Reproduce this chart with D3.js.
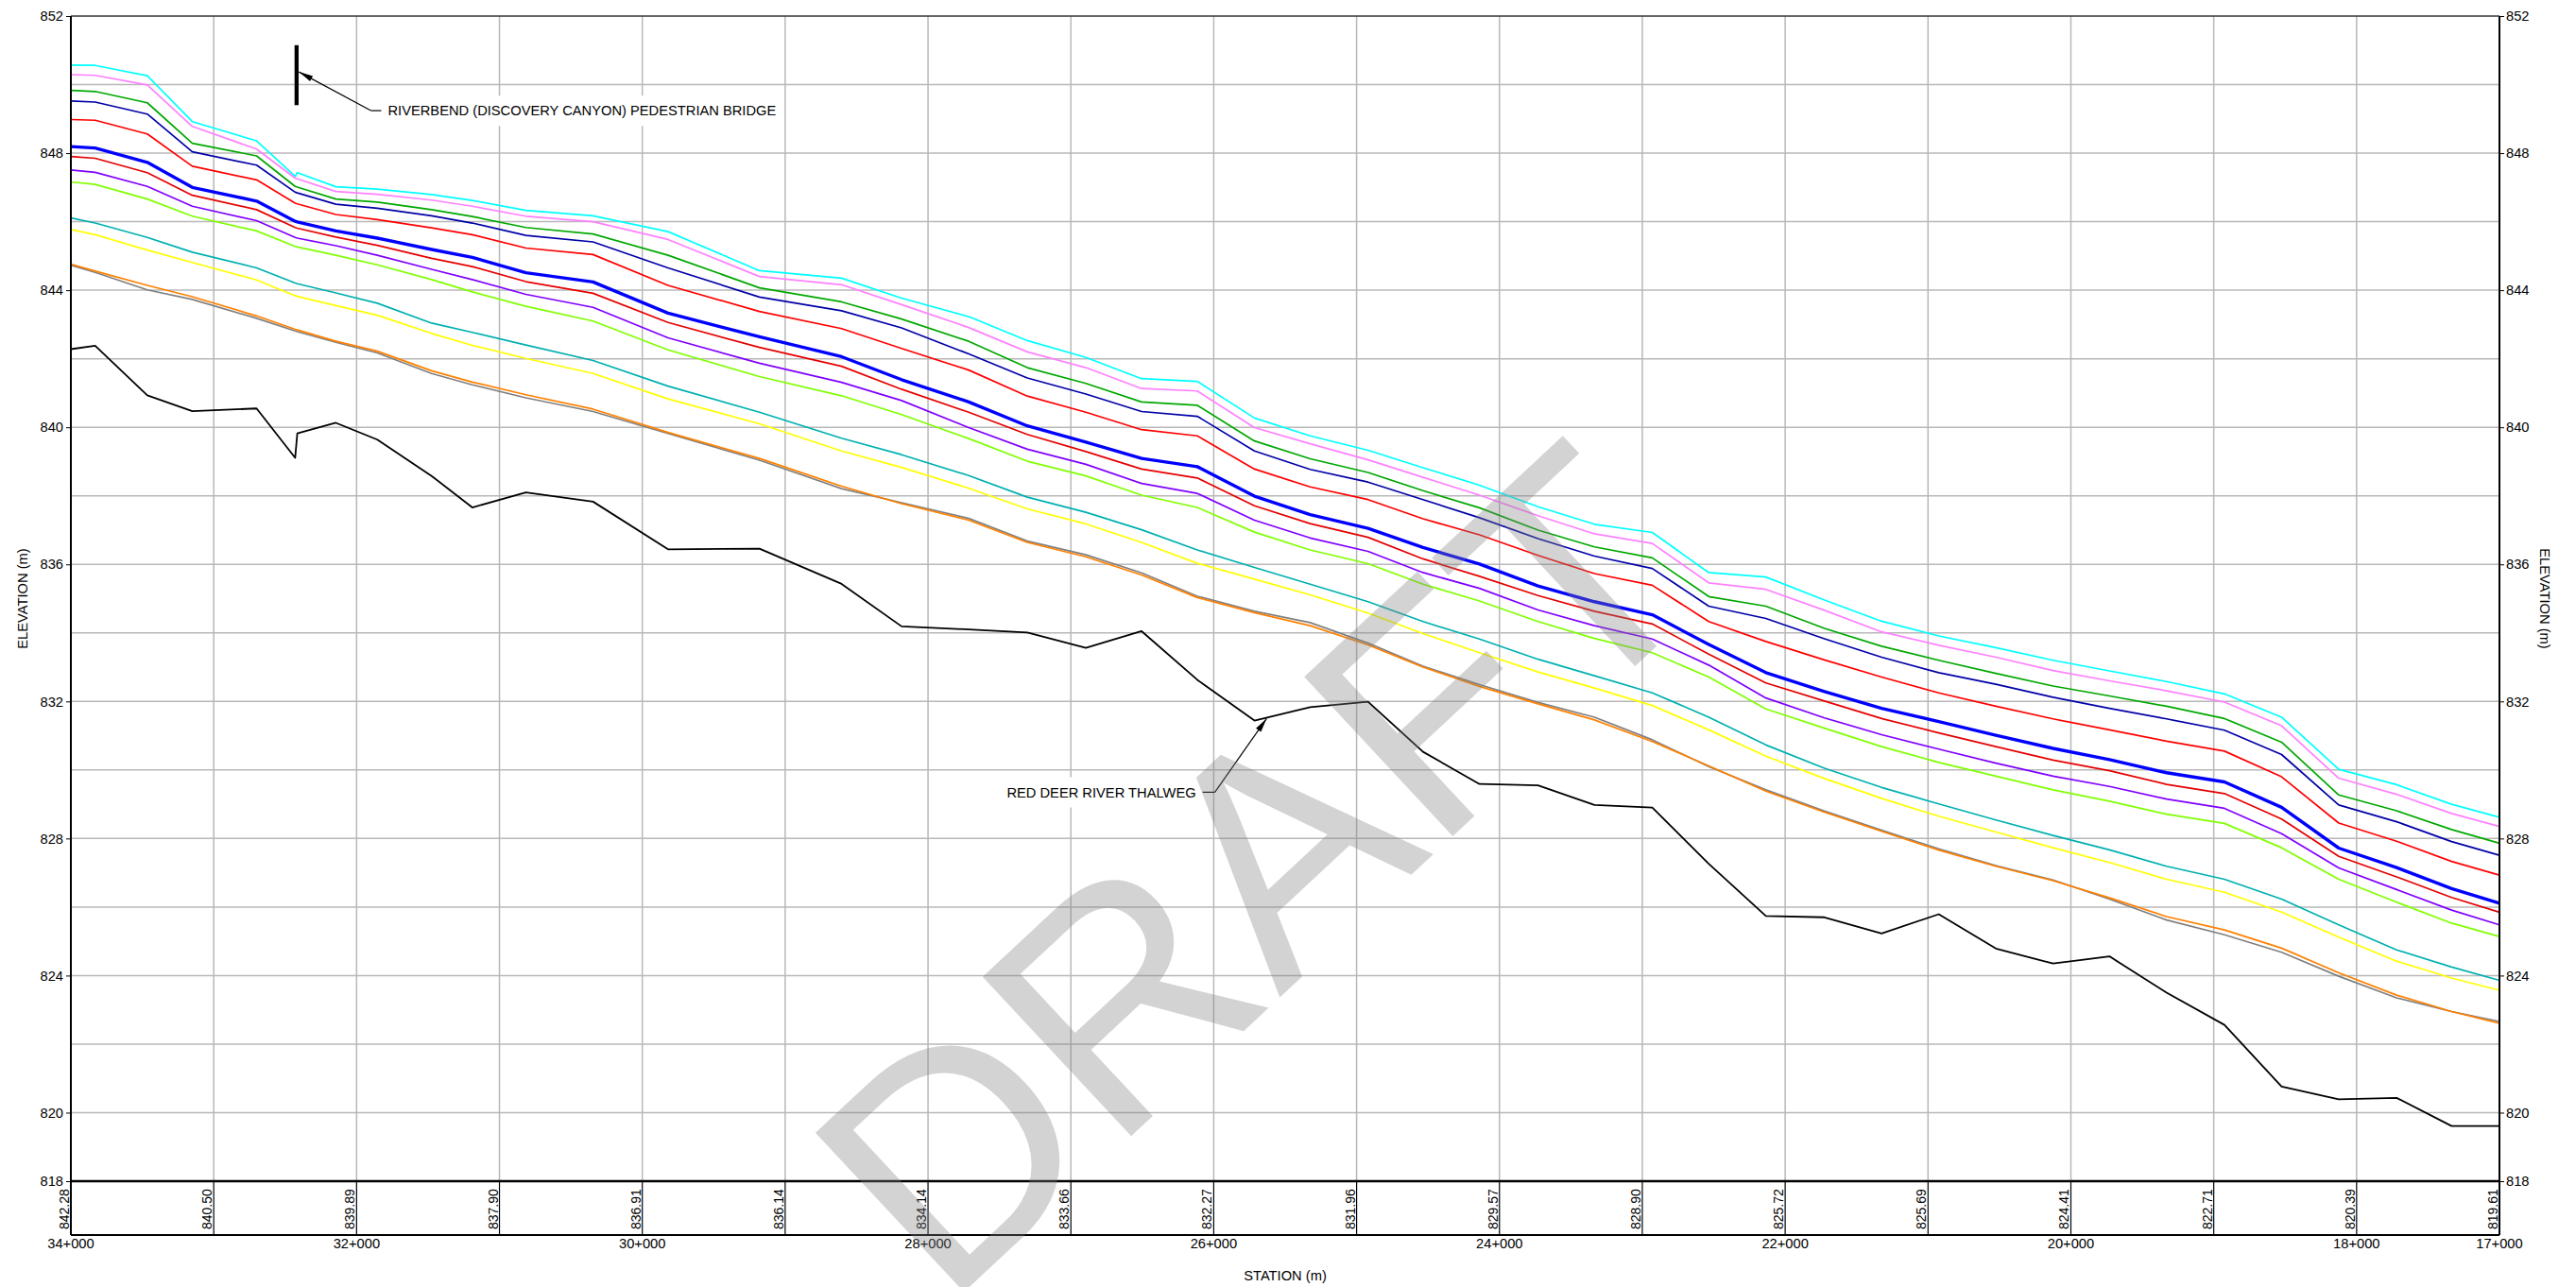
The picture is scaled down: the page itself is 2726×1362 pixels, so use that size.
<!DOCTYPE html>
<html>
<head>
<meta charset="utf-8">
<script src="https://cdn.jsdelivr.net/npm/d3@7"></script>
<style>
body { margin: 0; background: #fff; }
text { font-family: "Liberation Sans", Arial, sans-serif; }
</style>
</head>
<body>
<svg id="chart" width="2726" height="1362"></svg>
<script>
// cross section stations (m), upstream to downstream
var stations = [34000, 33830, 33465, 33150, 32700, 32430, 32415, 32145, 31855, 31475, 31190,
  30815, 30345, 29820, 29180, 28605, 28185, 27715, 27305, 26895, 26505, 26115, 25715,
  25325, 24920, 24535, 24140, 23730, 23335, 22930, 22535, 22135, 21725, 21325, 20925,
  20525, 20125, 19730, 19330, 18925, 18525, 18125, 17720, 17335, 17000];

// water surface profiles, top to bottom
var wsCyan = [850.57, 850.56, 850.26, 848.92, 848.36, 847.32, 847.43, 847.02, 846.95, 846.79, 846.62,
  846.33, 846.17, 845.71, 844.57, 844.35, 843.77, 843.23, 842.53, 842.04, 841.42, 841.34, 840.27,
  839.75, 839.33, 838.82, 838.31, 837.68, 837.17, 836.93, 835.76, 835.63, 834.96, 834.34, 833.91,
  833.57, 833.20, 832.89, 832.58, 832.22, 831.54, 830.02, 829.57, 829.00, 828.62];
var wsPink = [850.29, 850.27, 849.99, 848.78, 848.12, 847.27, 847.25, 846.88, 846.80, 846.63, 846.45,
  846.16, 846.00, 845.48, 844.40, 844.16, 843.58, 842.91, 842.20, 841.74, 841.13, 841.06, 839.99,
  839.52, 839.05, 838.54, 838.02, 837.42, 836.89, 836.61, 835.46, 835.27, 834.66, 834.03, 833.64,
  833.29, 832.90, 832.60, 832.31, 831.98, 831.29, 829.76, 829.29, 828.73, 828.35];
var wsGreen = [849.83, 849.80, 849.47, 848.29, 847.92, 847.03, 847.01, 846.66, 846.57, 846.35, 846.15,
  845.83, 845.64, 845.02, 844.07, 843.66, 843.16, 842.51, 841.74, 841.28, 840.74, 840.64, 839.60,
  839.08, 838.68, 838.15, 837.65, 837.00, 836.51, 836.19, 835.06, 834.78, 834.13, 833.61, 833.20,
  832.82, 832.45, 832.16, 831.86, 831.50, 830.81, 829.27, 828.81, 828.26, 827.86];
var wsNavy = [849.52, 849.49, 849.14, 848.04, 847.65, 846.86, 846.84, 846.51, 846.39, 846.17, 845.96,
  845.60, 845.41, 844.65, 843.80, 843.40, 842.90, 842.14, 841.44, 840.97, 840.46, 840.32, 839.31,
  838.77, 838.40, 837.89, 837.36, 836.75, 836.24, 835.88, 834.78, 834.42, 833.83, 833.29, 832.84,
  832.50, 832.12, 831.80, 831.49, 831.16, 830.45, 828.98, 828.49, 827.91, 827.51];
var wsRed = [848.98, 848.96, 848.56, 847.62, 847.22, 846.54, 846.52, 846.21, 846.06, 845.82, 845.62,
  845.23, 845.04, 844.14, 843.38, 842.88, 842.30, 841.67, 840.91, 840.44, 839.93, 839.75, 838.78,
  838.26, 837.89, 837.33, 836.86, 836.26, 835.73, 835.39, 834.33, 833.75, 833.21, 832.71, 832.25,
  831.86, 831.49, 831.17, 830.84, 830.55, 829.80, 828.45, 827.92, 827.33, 826.93];
var wsBlue = [848.19, 848.15, 847.73, 847.00, 846.60, 846.01, 845.99, 845.73, 845.52, 845.19, 844.96,
  844.51, 844.24, 843.33, 842.64, 842.06, 841.39, 840.74, 840.04, 839.57, 839.09, 838.85, 837.99,
  837.45, 837.05, 836.49, 836.01, 835.37, 834.91, 834.53, 833.66, 832.84, 832.29, 831.80, 831.41,
  831.01, 830.63, 830.30, 829.92, 829.65, 828.91, 827.72, 827.15, 826.54, 826.11];
var wsRed2 = [847.90, 847.85, 847.43, 846.77, 846.35, 845.83, 845.81, 845.55, 845.31, 844.93, 844.69,
  844.25, 843.91, 843.06, 842.33, 841.78, 841.11, 840.44, 839.79, 839.29, 838.78, 838.52, 837.71,
  837.19, 836.79, 836.16, 835.65, 835.09, 834.63, 834.26, 833.38, 832.54, 832.01, 831.50, 831.08,
  830.68, 830.29, 829.98, 829.58, 829.31, 828.57, 827.48, 826.88, 826.28, 825.85];
var wsPurple = [847.51, 847.44, 847.03, 846.45, 846.03, 845.54, 845.52, 845.30, 845.02, 844.61, 844.31,
  843.88, 843.50, 842.61, 841.87, 841.31, 840.78, 839.99, 839.36, 838.92, 838.36, 838.07, 837.29,
  836.77, 836.38, 835.76, 835.30, 834.67, 834.21, 833.82, 833.06, 832.10, 831.52, 831.03, 830.61,
  830.20, 829.82, 829.52, 829.15, 828.88, 828.14, 827.14, 826.51, 825.91, 825.48];
var wsLime = [847.16, 847.09, 846.66, 846.16, 845.73, 845.28, 845.26, 845.02, 844.74, 844.31, 843.95,
  843.53, 843.10, 842.26, 841.48, 840.92, 840.37, 839.67, 839.01, 838.58, 838.02, 837.66, 836.94,
  836.42, 836.02, 835.42, 834.93, 834.33, 833.84, 833.42, 832.71, 831.78, 831.22, 830.68, 830.22,
  829.82, 829.42, 829.09, 828.71, 828.44, 827.73, 826.81, 826.14, 825.53, 825.14];
var wsTeal = [846.11, 845.96, 845.54, 845.11, 844.65, 844.21, 844.19, 843.92, 843.62, 843.04, 842.77,
  842.40, 841.95, 841.20, 840.44, 839.68, 839.20, 838.59, 837.96, 837.52, 837.01, 836.42, 835.91,
  835.42, 834.91, 834.33, 833.82, 833.23, 832.75, 832.25, 831.54, 830.73, 830.05, 829.49, 829.01,
  828.54, 828.09, 827.67, 827.19, 826.81, 826.23, 825.48, 824.75, 824.25, 823.86];
var wsYellow = [845.77, 845.62, 845.17, 844.81, 844.30, 843.84, 843.82, 843.55, 843.27, 842.74, 842.39,
  842.01, 841.57, 840.83, 840.10, 839.31, 838.83, 838.22, 837.62, 837.18, 836.64, 836.03, 835.57,
  835.11, 834.58, 833.98, 833.42, 832.86, 832.39, 831.88, 831.17, 830.40, 829.75, 829.17, 828.65,
  828.19, 827.73, 827.30, 826.81, 826.43, 825.85, 825.12, 824.42, 823.93, 823.57];
var wsGray = [844.73, 844.52, 844.01, 843.73, 843.18, 842.81, 842.79, 842.48, 842.17, 841.57, 841.24,
  840.86, 840.46, 839.82, 839.04, 838.21, 837.80, 837.34, 836.68, 836.28, 835.75, 835.07, 834.63,
  834.30, 833.70, 833.03, 832.49, 831.97, 831.54, 830.88, 830.10, 829.42, 828.80, 828.24, 827.70,
  827.21, 826.79, 826.23, 825.62, 825.19, 824.68, 823.98, 823.35, 822.95, 822.66];
var wsOrange = [844.76, 844.56, 844.14, 843.81, 843.25, 842.86, 842.84, 842.51, 842.22, 841.65, 841.32,
  840.95, 840.53, 839.85, 839.09, 838.28, 837.77, 837.29, 836.64, 836.22, 835.69, 835.03, 834.59,
  834.21, 833.65, 833.00, 832.44, 831.93, 831.46, 830.83, 830.12, 829.38, 828.77, 828.21, 827.66,
  827.19, 826.77, 826.27, 825.72, 825.33, 824.80, 824.08, 823.43, 822.95, 822.61];
// channel bottom
var thalweg = [842.28, 842.38, 840.93, 840.47, 840.55, 839.11, 839.82, 840.13, 839.64, 838.58, 837.66,
  838.10, 837.83, 836.44, 836.46, 835.43, 834.19, 834.10, 834.01, 833.56, 834.05, 832.63, 831.44,
  831.83, 831.99, 830.53, 829.59, 829.55, 828.98, 828.90, 827.26, 825.74, 825.70, 825.23, 825.79,
  824.79, 824.35, 824.56, 823.50, 822.56, 820.76, 820.39, 820.43, 819.61, 819.61];

var elevTicks = [852, 848, 844, 840, 836, 832, 828, 824, 820, 818];
var stationTicks = [34000, 32000, 30000, 28000, 26000, 24000, 22000, 20000, 18000, 17000];
var gridStations = [34000, 33000, 32000, 31000, 30000, 29000, 28000, 27000, 26000, 25000, 24000,
  23000, 22000, 21000, 20000, 19000, 18000, 17000];
var thalwegLabels = ["842.28", "840.50", "839.89", "837.90", "836.91", "836.14", "834.14", "833.66",
  "832.27", "831.96", "829.57", "828.90", "825.72", "825.69", "824.41", "822.71", "820.39", "819.61"];

var profiles = [
  {values: wsCyan, color: "#00ffff", width: 1.7},
  {values: wsPink, color: "#ff80ff", width: 1.7},
  {values: wsGreen, color: "#00a800", width: 1.7},
  {values: wsNavy, color: "#0000a8", width: 1.7},
  {values: wsRed, color: "#ff0000", width: 1.7},
  {values: wsBlue, color: "#0000ff", width: 3.4},
  {values: wsRed2, color: "#e60000", width: 1.7},
  {values: wsPurple, color: "#8000ff", width: 1.7},
  {values: wsLime, color: "#80ff00", width: 1.7},
  {values: wsTeal, color: "#00b0b0", width: 1.7},
  {values: wsYellow, color: "#ffff00", width: 1.7},
  {values: wsGray, color: "#808080", width: 1.7},
  {values: wsOrange, color: "#ff8000", width: 1.7},
  {values: thalweg, color: "#000000", width: 1.8}
];

var plotLeft = 75, plotRight = 2645, plotTop = 17, plotBottom = 1250, bandBottom = 1307;
var font = "'Liberation Sans', Arial, sans-serif";

var svg = d3.select("#chart");
var x = d3.scaleLinear().domain([34000, 17000]).range([plotLeft, plotRight]);
var y = d3.scaleLinear().domain([818, 852]).range([plotBottom, plotTop]);

function stationLabel(s){
  return Math.floor(s / 1000) + "+" + String(s % 1000).padStart(3, "0");
}

//Grid lines
svg.append("g").selectAll("line").data(d3.range(820, 852, 2)).enter().append("line")
  .attr("x1", plotLeft).attr("x2", plotRight).attr("y1", function(d){ return y(d); }).attr("y2", function(d){ return y(d); })
  .attr("stroke", "#b8b8b8").attr("stroke-width", 1.5);
svg.append("g").selectAll("line").data(gridStations).enter().append("line")
  .attr("x1", function(d){ return x(d); }).attr("x2", function(d){ return x(d); })
  .attr("y1", plotTop).attr("y2", plotBottom)
  .attr("stroke", "#b8b8b8").attr("stroke-width", 1.5);

//Profiles
var line = d3.line().x(function(d, i){ return x(stations[i]); }).y(function(d){ return y(d); });
svg.append("g").selectAll("path").data(profiles).enter().append("path")
  .attr("d", function(p){ return line(p.values); })
  .attr("fill", "none").attr("stroke", function(p){ return p.color; })
  .attr("stroke-width", function(p){ return p.width; }).attr("stroke-linejoin", "round");

//Annotations
var notes = svg.append("g");
function arrow(x1, y1, x2, y2){
  notes.append("line").attr("x1", x1).attr("y1", y1).attr("x2", x2).attr("y2", y2)
    .attr("stroke", "#000").attr("stroke-width", 1.2);
  var a = Math.atan2(y2 - y1, x2 - x1), L = 15, W = 3.2;
  var bx = x2 - L * Math.cos(a), by = y2 - L * Math.sin(a);
  notes.append("path").attr("fill", "#000")
    .attr("d", "M" + x2 + "," + y2 + "L" + (bx - W * Math.sin(a)) + "," + (by + W * Math.cos(a)) +
      "L" + (bx + W * Math.sin(a)) + "," + (by - W * Math.cos(a)) + "Z");
}
function maskedText(tx, ty, anchor, str){
  var t = notes.append("text").attr("x", tx).attr("y", ty).attr("dy", "0.35em")
    .attr("text-anchor", anchor).attr("font-size", 14.7).attr("fill", "#000").text(str);
  var b = t.node().getBBox();
  notes.insert("rect", function(){ return t.node(); })
    .attr("x", b.x - 7).attr("y", b.y - 8).attr("width", b.width + 14).attr("height", b.height + 16)
    .attr("fill", "#fff");
}

// bridge
var bridgeStation = 32420, bridgeTop = 851.15, bridgeBottom = 849.4;
notes.append("line").attr("x1", x(bridgeStation)).attr("x2", x(bridgeStation))
  .attr("y1", y(bridgeTop)).attr("y2", y(bridgeBottom)).attr("stroke", "#000").attr("stroke-width", 4.3);
var bx0 = x(31900), by0 = y(849.24);
arrow(bx0, by0, x(bridgeStation) + 2.5, y(850.37));
notes.append("line").attr("x1", bx0).attr("x2", bx0 + 12).attr("y1", by0).attr("y2", by0)
  .attr("stroke", "#000").attr("stroke-width", 1.2);
maskedText(bx0 + 18, by0, "start", "RIVERBEND (DISCOVERY CANYON) PEDESTRIAN BRIDGE");

// thalweg
var tx0 = x(25992), ty0 = y(829.35);
arrow(tx0, ty0, x(25630), y(831.5));
notes.append("line").attr("x1", tx0).attr("x2", tx0 - 15).attr("y1", ty0).attr("y2", ty0)
  .attr("stroke", "#000").attr("stroke-width", 1.2);
maskedText(tx0 - 20, ty0, "end", "RED DEER RIVER THALWEG");

//Frame
var frame = svg.append("g").attr("stroke", "#000").attr("fill", "none");
frame.append("line").attr("x1", plotLeft).attr("x2", plotRight).attr("y1", plotTop).attr("y2", plotTop).attr("stroke", "#333").attr("stroke-width", 1.5);
frame.append("line").attr("x1", plotLeft).attr("x2", plotLeft).attr("y1", plotTop).attr("y2", bandBottom).attr("stroke-width", 2);
frame.append("line").attr("x1", plotRight).attr("x2", plotRight).attr("y1", plotTop).attr("y2", bandBottom).attr("stroke-width", 2);
frame.append("line").attr("x1", plotLeft).attr("x2", plotRight).attr("y1", plotBottom).attr("y2", plotBottom).attr("stroke-width", 2.6);
frame.append("line").attr("x1", plotLeft).attr("x2", plotRight).attr("y1", bandBottom).attr("y2", bandBottom).attr("stroke-width", 2);
frame.selectAll("line.band").data(gridStations).enter().append("line").attr("class", "band")
  .attr("x1", function(d){ return x(d); }).attr("x2", function(d){ return x(d); })
  .attr("y1", plotBottom).attr("y2", bandBottom).attr("stroke-width", 1.2);

//Axes
function styleAxis(g){
  g.select(".domain").remove();
  g.selectAll("line").attr("stroke", "#000");
  g.selectAll("text").attr("font-size", 14.7).attr("font-family", font).attr("fill", "#000");
}
svg.append("g").attr("transform", "translate(" + plotLeft + ",0)")
  .call(d3.axisLeft(y).tickValues(elevTicks).tickSize(5).tickPadding(3)).call(styleAxis);
svg.append("g").attr("transform", "translate(" + plotRight + ",0)")
  .call(d3.axisRight(y).tickValues(elevTicks).tickSize(5).tickPadding(2)).call(styleAxis);

svg.append("g").selectAll("text").data(stationTicks).enter().append("text")
  .attr("x", function(d){ return x(d); }).attr("y", bandBottom + 14).attr("text-anchor", "middle")
  .attr("font-size", 14.7).text(stationLabel);

// thalweg elevation at each station, in the band under the plot
svg.append("g").selectAll("text").data(gridStations).enter().append("text")
  .attr("transform", function(d){ return "translate(" + (x(d) - 2) + "," + (bandBottom - 6) + ") rotate(-90)"; })
  .attr("font-size", 14).text(function(d, i){ return thalwegLabels[i]; });

svg.append("text").attr("x", (plotLeft + plotRight) / 2).attr("y", 1355).attr("text-anchor", "middle")
  .attr("font-size", 14.7).text("STATION (m)");
svg.append("text").attr("transform", "translate(29," + (plotTop + plotBottom) / 2 + ") rotate(-90)")
  .attr("text-anchor", "middle").attr("font-size", 14.7).text("ELEVATION (m)");
svg.append("text").attr("transform", "translate(2688," + (plotTop + plotBottom) / 2 + ") rotate(90)")
  .attr("text-anchor", "middle").attr("font-size", 14.7).text("ELEVATION (m)");

//Watermark
svg.append("text").attr("transform", "translate(1000,1386) rotate(-43)")
  .attr("font-size", 335).attr("fill", "#808080").attr("opacity", 0.34).text("DRAFT");
</script>
</body>
</html>
